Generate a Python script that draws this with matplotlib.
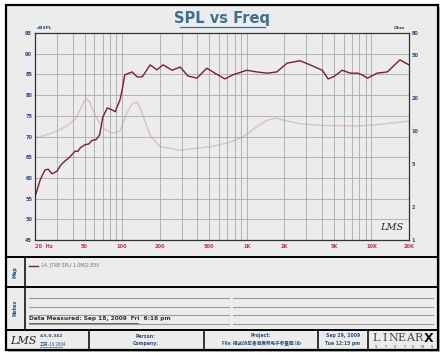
"""
SPL vs Freq chart in the LMS / LinearX report style.
"""
import matplotlib
matplotlib.use("Agg")
import matplotlib.pyplot as plt
from matplotlib.patches import Rectangle
from matplotlib.ticker import FixedLocator, NullFormatter

# SPL response (dB) vs frequency (Hz)
spl_freq = [20, 22, 24, 25.5, 27.4, 30, 32, 34.5, 38, 42, 44, 46, 50, 54, 57,
            62, 66, 70, 76, 82, 88, 96, 100, 105, 120, 132, 145, 168, 190,
            213, 252, 292, 338, 398, 478, 554, 668, 774, 1000, 1200, 1450,
            1740, 2100, 2670, 3220, 4030, 4490, 5000, 5830, 6760, 7750, 8400,
            9300, 11100, 13400, 16900, 20000]
spl_db = [55.4, 59.5, 61.9, 62.1, 61.0, 61.6, 63.0, 64.0, 65.0, 66.5, 66.4,
          67.2, 68.0, 68.2, 69.0, 69.3, 70.4, 74.7, 76.9, 76.5, 76.0, 78.8,
          81.2, 84.9, 85.6, 84.4, 84.4, 87.3, 86.1, 87.3, 86.0, 86.8, 84.6,
          84.1, 86.5, 85.3, 83.9, 84.9, 86.0, 85.6, 85.3, 85.6, 87.7, 88.3,
          87.3, 86.0, 83.9, 84.5, 86.0, 85.3, 85.3, 84.9, 84.1, 85.3, 85.6,
          88.5, 87.3]

# impedance (Ohm) vs frequency (Hz)
imp_freq = [20, 25, 31.6, 37, 42, 46, 50, 52, 55, 57, 62, 66, 72, 76, 84, 96,
            109, 120, 132, 140, 152, 168, 201, 292, 508, 700, 930, 1200, 1450,
            1690, 2000, 2670, 4000, 8000, 12000, 20000]
imp_ohm = [8.7, 9.3, 10.3, 11.4, 13.0, 15.7, 19.2, 19.8, 18.5, 16.7, 13.5,
           11.9, 10.6, 10.0, 9.6, 10.0, 14.7, 17.8, 18.6, 16.0, 12.5, 9.2,
           7.2, 6.7, 7.2, 7.8, 8.85, 11.0, 12.6, 13.2, 12.6, 11.7, 11.3, 11.2,
           11.6, 12.4]

x_ticks = [20, 50, 100, 200, 500, 1000, 2000, 5000, 10000, 20000]
x_labels = ["20  Hz", "50", "100", "200", "500", "1K", "2K", "5K", "10K", "20K"]
y_ticks = [45, 50, 55, 60, 65, 70, 75, 80, 85, 90, 95]
ohm_ticks = [1, 2, 5, 10, 20, 50, 80]

W, H = 445, 356
NAVY = "#2b4f80"
CRIMSON = "#b8345e"
SPL_COLOR = "#7a1e2c"
IMP_COLOR = "#dcbfc4"
GRID = "#a8a8a8"
CJK = ["Noto Sans CJK SC", "DejaVu Sans"]

fig = plt.figure(figsize=(W / 100, H / 100), dpi=100)
fig.patch.set_facecolor("white")

# page frame drawn in pixel coordinates
bg = fig.add_axes([0, 0, 1, 1])
bg.set_xlim(0, W)
bg.set_ylim(H, 0)
bg.axis("off")
bg.add_patch(Rectangle((8, 7), 432, 345, facecolor="#b9b9b9", edgecolor="none"))
bg.add_patch(Rectangle((6, 5), 432, 345, facecolor="#ececec",
                       edgecolor="black", linewidth=1.6))
for y in (257, 287, 330):
    bg.plot([6, 438], [y, y], color="black", lw=1.4)
bg.plot([25, 25], [257, 330], color="black", lw=1.1)
for x in (89, 204, 318, 368):
    bg.plot([x, x], [330, 350], color="black", lw=1.1)

# title
bg.text(222, 19, "SPL vs Freq", ha="center", va="center", fontsize=10.5,
        fontweight="bold", color="#3f6f8f")
bg.plot([180, 265], [27, 27], color="#3f6f8f", lw=0.9)
bg.text(37, 30, "dBSPL", fontsize=3.2, fontweight="bold", color=NAVY, va="bottom")
bg.text(405, 30, "Ohm", fontsize=3.2, fontweight="bold", color=NAVY,
        va="bottom", ha="right")

# map / legend box
bg.text(15, 272, "Map", rotation=90, ha="center", va="center", fontsize=3.5,
        fontweight="bold", color=NAVY)
bg.plot([29, 38], [266, 266], color=SPL_COLOR, lw=1.0)
bg.text(41, 266, "14. JT4B SPL/ 1.0M/2.83V", fontsize=3.3, color="#707070",
        va="center")

# notes box
bg.text(15, 308, "Notes", rotation=90, ha="center", va="center", fontsize=3.5,
        fontweight="bold", color=NAVY)
for y in (298, 307, 315, 324):
    bg.plot([29, 229], [y, y], color="#9a9a9a", lw=0.8)
    bg.plot([233, 433], [y, y], color="#9a9a9a", lw=0.8)
bg.text(29, 321, "Data Measured: Sep 18, 2009  Fri  6:16 pm", fontsize=4.2,
        fontweight="bold", color="#333333", va="bottom")
bg.plot([29, 138], [322.5, 322.5], color="#333333", lw=0.5)

# footer
bg.text(10, 341, "LMS", fontsize=8, fontstyle="italic", family="DejaVu Serif",
        color="#222222", va="center")
bg.text(40, 336, "4.5.0.342", fontsize=3.2, fontweight="bold", color=NAVY,
        va="center")
bg.text(40, 344, "五月-19.2004", fontsize=3.2, color=NAVY, va="center",
        family=CJK)
bg.plot([40, 62], [346.5, 346.5], color=NAVY, lw=0.4)
bg.text(146, 336, "Person:", fontsize=3.3, fontweight="bold", color=NAVY,
        ha="center", va="center")
bg.text(146, 344, "Company:", fontsize=3.3, fontweight="bold", color=NAVY,
        ha="center", va="center")
bg.text(261, 336, "Project:", fontsize=3.3, fontweight="bold", color=NAVY,
        ha="center", va="center")
bg.text(261, 344, "File: 福达09年香港展带电子参量图.lib", fontsize=3.3,
        fontweight="bold", color=NAVY, ha="center", va="center", family=CJK)
bg.text(343, 336, "Sep 29, 2009", fontsize=3.3, fontweight="bold", color=NAVY,
        ha="center", va="center")
bg.text(343, 344, "Tue 12:15 pm", fontsize=3.3, fontweight="bold", color=NAVY,
        ha="center", va="center")
for i, ch in enumerate("LINEAR"):
    bg.text(376 + i * 8.6, 338, ch, fontsize=8, family="DejaVu Serif",
            color="#444444", ha="center", va="center")
bg.text(429, 338, "X", fontsize=9, fontweight="bold", color="#111111",
        ha="center", va="center")
for i, ch in enumerate("SYSTEMS"):
    bg.text(376 + i * 9.3, 347, ch, fontsize=2.6, color=NAVY, ha="center",
            va="center")

# main plot
ax = fig.add_axes([35 / W, 1 - 240 / H, 374 / W, 207 / H])
ax.set_xscale("log")
ax.set_xlim(20, 20000)
ax.set_ylim(45, 95)
ax.xaxis.set_major_locator(FixedLocator(x_ticks))
ax.xaxis.set_minor_locator(FixedLocator(
    [m * 10 ** e for e in range(1, 5) for m in range(1, 10)]))
ax.xaxis.set_minor_formatter(NullFormatter())
ax.set_xticks(x_ticks)
ax.set_xticklabels(x_labels)
ax.set_yticks(y_ticks)
ax.grid(True, which="both", axis="x", color=GRID, lw=0.6)
ax.grid(True, which="major", axis="y", color=GRID, lw=0.6)
ax.tick_params(which="both", length=0)
ax.tick_params(axis="x", labelsize=3.6, labelcolor=CRIMSON, pad=3)
ax.tick_params(axis="y", labelsize=3.6, labelcolor=NAVY, pad=2)
for lab in ax.get_xticklabels() + ax.get_yticklabels():
    lab.set_fontweight("bold")
ax.get_xticklabels()[0].set_horizontalalignment("left")
for s in ax.spines.values():
    s.set_color("#333333")
    s.set_linewidth(0.9)

ax2 = ax.twinx()
ax2.set_yscale("log")
ax2.set_ylim(1, 80)
ax2.set_yticks(ohm_ticks)
ax2.set_yticklabels([str(t) for t in ohm_ticks])
ax2.yaxis.set_minor_formatter(NullFormatter())
ax2.tick_params(which="both", length=0, labelsize=3.6, labelcolor=NAVY, pad=2)
for lab in ax2.get_yticklabels():
    lab.set_fontweight("bold")
for s in ax2.spines.values():
    s.set_visible(False)

# impedance sits behind the grid/SPL axes
ax2.plot(imp_freq, imp_ohm, color=IMP_COLOR, lw=1.0)
ax.set_zorder(ax2.get_zorder() + 1)
ax.patch.set_visible(False)
ax2.patch.set_facecolor("white")
ax.plot(spl_freq, spl_db, color=SPL_COLOR, lw=1.0)

ax.text(0.955, 0.04, "LMS", transform=ax.transAxes, fontsize=7,
        fontstyle="italic", family="DejaVu Serif", color="#222222",
        ha="center", va="bottom")

fig.savefig("out.png", dpi=100)
